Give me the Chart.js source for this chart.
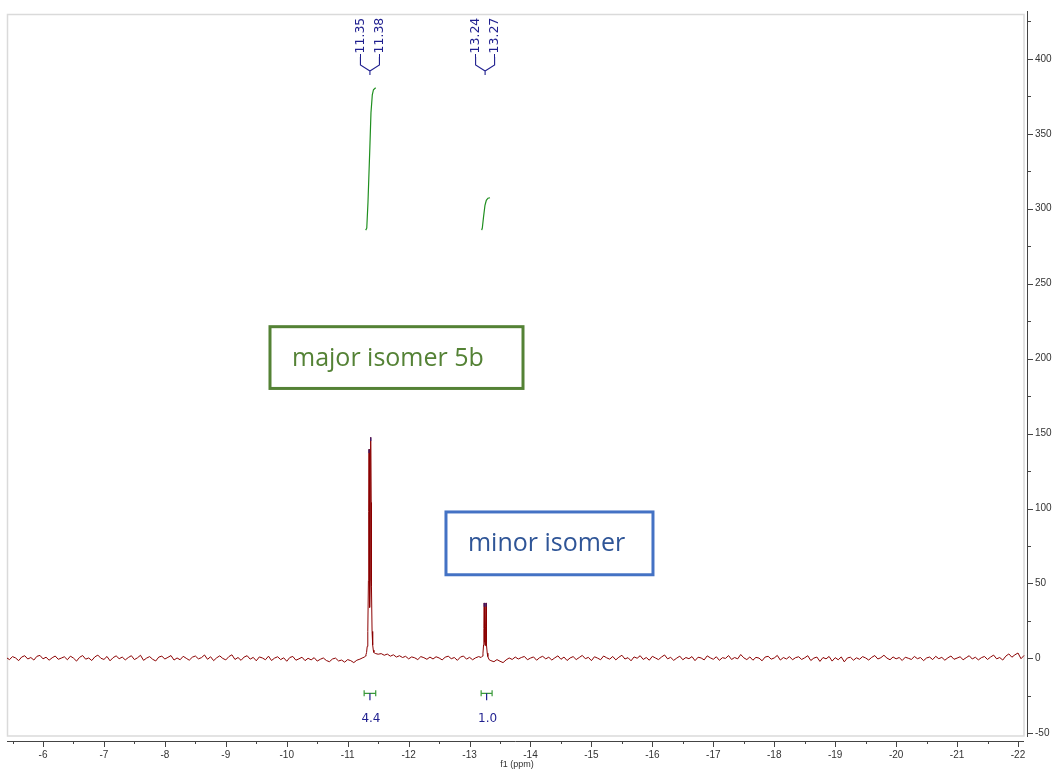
<!DOCTYPE html>
<html>
<head>
<meta charset="utf-8">
<script src="https://cdn.jsdelivr.net/npm/chart.js@4.4.1/dist/chart.umd.min.js"></script>
<style>
  html, body { margin: 0; padding: 0; background: #fff; }
</style>
</head>
<body>
<canvas id="nmr" width="1055" height="771"></canvas>
<script>
"use strict";

// baseline noise, one value every 0.05 ppm starting at -5.40
var baseStart = -5.40;
var baseStep = 0.05;
var baseNoise = [
  0.5, -0.8, 1.2, 0.3, -1.5, 0.9, 1.8, -0.4, 0.6, -1.1, 1.4, 2.0, -0.3, 0.8, -1.2, 0.4, 1.6, -0.6, 0.2, 1.1,
  -0.9, 1.5, 0.2, -1.8, 0.7, 1.9, -0.5, 0.3, -1.4, 1.0, 2.2, 0.1, -0.7, 1.3, -1.6, 0.5, 1.7, -0.2, 0.9, -1.0,
  0.6, 1.8, -0.8, 0.4, 2.1, -1.3, 0.2, 1.2, -0.6, -1.7, 0.9, 1.5, -0.4, 0.7, 1.9, -1.1, 0.3, -0.9, 1.4, 0.1,
  -1.2, 0.8, 1.6, -0.3, 0.5, 2.3, -0.6, 1.1, -1.5, 0.4, 1.7, 0.0, -1.0, 1.2, 2.4, -0.7, 0.6, -1.3, 0.9, 1.8,
  -0.5, 0.7, -1.6, 1.0, 0.3, -0.9, 1.5, -1.4, 0.2, 1.1, -0.8, 0.4, -1.9, 0.6, 1.3, -1.2, -0.3, 0.8, -1.5, 0.1,
  -1.0, 0.5, -1.8, -0.6, 0.3, -1.4, -2.2, -0.4, 0.2, -1.7, -1.1, -2.5, -0.8, -1.5, -2.8, -1.2, -0.5, 0.5, 2.0, 5.0,
  5.0, 3.0, 2.8, 3.2, 2.1, 2.9, 1.5, 2.4, 0.9, 1.8, 0.6, 1.4, -0.3, 1.0, 0.4, -0.8, 1.2, 0.5, -0.6, 0.9,
  -0.4, 1.1, 0.3, -1.0, 0.8, 1.5, -0.2, 0.6, -1.3, 0.9, 1.6, -0.5, 0.7, -0.9, 0.4, 1.2, 2.0, 9.0, 2.0, -1.5,
  -2.2, -0.8, -1.9, -2.8, -1.0, 0.3, -0.7, 0.9, -0.4, 0.6, 1.3, -0.9, 0.2, 1.0, -1.2, 0.5, 1.4, -0.3, 0.8, -1.1,
  0.4, 1.7, -0.6, 0.9, -1.4, 0.3, 1.2, -0.8, 0.6, 2.0, -0.2, 0.7, -1.5, 1.1, 0.2, -0.9, 1.6, 0.4, -0.5, 1.3,
  -1.0, 0.8, 2.1, -0.4, 0.5, -1.6, 1.0, 0.1, 1.8, -0.7, 0.6, -1.2, 1.4, 0.3, -0.8, 0.9, 2.3, -0.3, 0.7, -1.3,
  0.2, 1.5, -0.9, 0.6, -0.2, 1.2, -1.5, 0.8, 0.3, -1.0, 1.7, 0.4, -0.6, 1.1, -1.3, 0.5, 0.0, 1.9, -0.7, 0.6,
  -0.3, 2.6, 0.4, -0.8, 1.0, -1.2, 0.7, 0.2, -1.6, 0.9, 1.4, -0.5, 0.3, 2.0, -1.1, 0.6, -0.4, 1.2, -0.9, 0.5,
  1.1, -0.7, 0.4, 1.8, -1.4, 0.2, 0.9, -2.0, 0.6, -0.3, 1.3, -1.8, 0.5, -0.9, 1.0, -2.3, 0.3, 0.8, -1.2, 0.4,
  -0.6, 1.2, 0.3, -1.1, 0.7, 1.9, -0.4, 0.5, 2.1, 0.2, -0.9, 1.0, -0.3, 0.6, -1.4, 0.8, 0.1, -0.7, 1.3, -0.2,
  0.6, -1.5, 0.3, 0.9, -0.8, 1.4, -0.2, 0.7, -1.2, 0.4, 1.6, -0.6, 0.2, 1.1, -0.9, 0.5, 1.8, -0.4, 0.8, -1.0,
  0.5, 1.3, -0.7, 0.9, 2.2, -0.3, 0.6, -1.1, 1.5, 3.0, 0.8, 2.4, 3.6, -0.2, 2.0
];

// major doublet (-11.35 / -11.38)
var majorPpm = [-11.27, -11.29, -11.30, -11.31, -11.32, -11.33, -11.34, -11.345, -11.35, -11.355, -11.36, -11.365,
                -11.37, -11.375, -11.38, -11.385, -11.39, -11.40, -11.41, -11.42, -11.43, -11.44, -11.46];
var majorInt = [0.8, 1.5, 2.5, 4, 8, 18, 52, 98, 139.5, 98, 48, 34,
                52, 104, 147.5, 104, 48, 18, 9, 5.5, 4, 3.5, 3.2];

// minor doublet (-13.24 / -13.27)
var minorPpm = [-13.19, -13.21, -13.22, -13.23, -13.235, -13.24, -13.245, -13.25, -13.255,
                -13.26, -13.265, -13.27, -13.275, -13.28, -13.29, -13.30, -13.32];
var minorInt = [0.6, 1.5, 3.5, 9, 20, 37, 20, 11, 8.5,
                12, 21, 37, 21, 9, 3.5, 1.2, -0.8];

// integral curves
var majorIntPpm = [-11.295, -11.313, -11.333, -11.361, -11.382, -11.404, -11.423, -11.459];
var majorIntVal = [285.7, 287.0, 304.3, 337.5, 364.0, 376.0, 379.4, 380.7];
var minorIntPpm = [-13.199, -13.209, -13.229, -13.253, -13.275, -13.302, -13.335];
var minorIntVal = [285.7, 287.0, 294.4, 302.3, 305.6, 307.0, 307.3];

// picked peaks
var peakShifts = [-11.35, -11.38, -13.24, -13.27];
var peakHeights = [139.5, 147.5, 37, 37];
var peakLabels = ['-11.35', '-11.38', '-13.24', '-13.27'];

// integration regions
var intFrom = [-11.27, -13.19];
var intTo = [-11.46, -13.37];
var intLabels = ['4.4', '1.0'];

// axes
var xTickValues = [-6, -7, -8, -9, -10, -11, -12, -13, -14, -15, -16, -17, -18, -19, -20, -21, -22];
var yTickValues = [-50, 0, 50, 100, 150, 200, 250, 300, 350, 400];

// text boxes
var boxLabels = ['major isomer 5b', 'minor isomer'];

var navy = '#1f1f8f';
var axisColor = '#444';

function buildSpectrum() {
    var pts = [];
    var windows = [[majorPpm[0], majorPpm[majorPpm.length - 1]], [minorPpm[0], minorPpm[minorPpm.length - 1]]];
    for (var i = 0; i < baseNoise.length; i++) {
        var x = Math.round((baseStart - i * baseStep) * 100) / 100;
        var inside = windows.some(function (w) { return x <= w[0] && x >= w[1]; });
        if (!inside) pts.push({ x: x, y: baseNoise[i] });
    }
    majorPpm.forEach(function (x, k) { pts.push({ x: x, y: majorInt[k] }); });
    minorPpm.forEach(function (x, k) { pts.push({ x: x, y: minorInt[k] }); });
    pts.sort(function (a, b) { return b.x - a.x; });
    return pts;
}

function zip(xs, ys) {
    return xs.map(function (x, k) { return { x: x, y: ys[k] }; });
}

function peakCaps() {
    var pts = [];
    for (var i = 0; i < peakShifts.length; i++) {
        pts.push({ x: peakShifts[i], y: peakHeights[i] - 2.5 });
        pts.push({ x: peakShifts[i], y: peakHeights[i] });
        pts.push({ x: peakShifts[i], y: null });
    }
    return pts;
}

// frame, axis lines, tick marks, peak labels, integrals and text boxes
var decorations = {
    id: 'decorations',
    beforeDatasetsDraw: function (chart) {
        var ctx = chart.ctx, a = chart.chartArea;
        ctx.save();
        ctx.strokeStyle = '#dadada';
        ctx.lineWidth = 1.5;
        ctx.strokeRect(a.left + 0.5, a.top + 0.5, a.right - 3.5 - a.left, a.bottom - 5.5 - a.top);
        ctx.restore();
    },
    afterDraw: function (chart) {
        var ctx = chart.ctx, a = chart.chartArea;
        var xs = chart.scales.x, ys = chart.scales.y;
        ctx.save();

        // axis lines and ticks
        ctx.strokeStyle = axisColor;
        ctx.lineWidth = 1;
        ctx.beginPath();
        ctx.moveTo(a.left, a.bottom + 0.5);
        ctx.lineTo(a.right - 3, a.bottom + 0.5);
        ctx.moveTo(a.right + 0.5, a.top - 3);
        ctx.lineTo(a.right + 0.5, a.bottom - 4);
        xTickValues.forEach(function (v) {
            var p = Math.round(xs.getPixelForValue(v)) + 0.5;
            ctx.moveTo(p, a.bottom);
            ctx.lineTo(p, a.bottom + 6);
            [v + 0.5, v - 0.5].forEach(function (m) {
                if (m > xs.min && m < xs.max) {
                    var q = Math.round(xs.getPixelForValue(m)) + 0.5;
                    ctx.moveTo(q, a.bottom);
                    ctx.lineTo(q, a.bottom + 3);
                }
            });
        });
        yTickValues.forEach(function (v) {
            var p = Math.round(ys.getPixelForValue(v)) + 0.5;
            ctx.moveTo(a.right, p);
            ctx.lineTo(a.right + 6, p);
            [v + 25, v - 25].forEach(function (m) {
                if (m > ys.min && m < ys.max) {
                    var q = Math.round(ys.getPixelForValue(m)) + 0.5;
                    ctx.moveTo(a.right, q);
                    ctx.lineTo(a.right + 4, q);
                }
            });
        });
        ctx.stroke();

        // peak labels with their connecting brackets
        ctx.font = '12.5px "DejaVu Sans"';
        ctx.fillStyle = navy;
        ctx.strokeStyle = navy;
        ctx.lineWidth = 1.1;
        for (var g = 0; g < peakShifts.length; g += 2) {
            var c = (xs.getPixelForValue(peakShifts[g]) + xs.getPixelForValue(peakShifts[g + 1])) / 2;
            var sides = [c - 9.5, c + 9.5];
            ctx.beginPath();
            sides.forEach(function (lx) {
                ctx.moveTo(lx, 57);
                ctx.lineTo(lx, 65);
                ctx.lineTo(c, 71);
            });
            ctx.moveTo(c, 71);
            ctx.lineTo(c, 75);
            ctx.stroke();
            for (var k = 0; k < 2; k++) {
                ctx.save();
                ctx.translate(sides[k], 58);
                ctx.rotate(-Math.PI / 2);
                ctx.textAlign = 'left';
                ctx.textBaseline = 'middle';
                ctx.fillText(peakLabels[g + k], 0, 0);
                ctx.restore();
            }
        }

        // integration brackets and values
        var by = ys.getPixelForValue(-23.3);
        for (var r = 0; r < intFrom.length; r++) {
            var x0 = xs.getPixelForValue(intFrom[r]);
            var x1 = xs.getPixelForValue(intTo[r]);
            var xm = (x0 + x1) / 2;
            ctx.strokeStyle = '#3a9a3a';
            ctx.lineWidth = 1.2;
            ctx.beginPath();
            ctx.moveTo(x0, by - 3); ctx.lineTo(x0, by + 3);
            ctx.moveTo(x1, by - 3); ctx.lineTo(x1, by + 3);
            ctx.moveTo(x0, by); ctx.lineTo(x1, by);
            ctx.stroke();
            ctx.strokeStyle = navy;
            ctx.beginPath();
            ctx.moveTo(xm, by); ctx.lineTo(xm, by + 7);
            ctx.stroke();
            ctx.fillStyle = navy;
            ctx.font = '12px "DejaVu Sans"';
            ctx.textAlign = 'center';
            ctx.textBaseline = 'middle';
            ctx.fillText(intLabels[r], xm + 1, ys.getPixelForValue(-40.2));
        }

        // text boxes
        var boxes = [
            { from: -9.725, to: -13.877, top: 221.3, bottom: 180.1, stroke: '#548235', color: '#548235' },
            { from: -12.613, to: -16.01, top: 97.7, bottom: 55.8, stroke: '#4472c4', color: '#2f5597' }
        ];
        boxes.forEach(function (b, n) {
            var l = xs.getPixelForValue(b.from), rr = xs.getPixelForValue(b.to);
            var t = ys.getPixelForValue(b.top), bt = ys.getPixelForValue(b.bottom);
            ctx.strokeStyle = b.stroke;
            ctx.lineWidth = 3;
            ctx.strokeRect(l, t, rr - l, bt - t);
            ctx.fillStyle = b.color;
            ctx.font = '25px "Open Sans"';
            ctx.textAlign = 'left';
            ctx.textBaseline = 'alphabetic';
            ctx.fillText(boxLabels[n], l + 22, t + 39);
        });

        ctx.restore();
    }
};

Chart.defaults.font.family = '"Liberation Sans", Arial, sans-serif';

new Chart(document.getElementById('nmr'), {
    type: 'line',
    data: {
        datasets: [
            { data: peakCaps(), borderColor: navy, borderWidth: 1, spanGaps: false },
            { data: zip(majorIntPpm, majorIntVal), borderColor: '#1f8f1f', borderWidth: 1.2 },
            { data: zip(minorIntPpm, minorIntVal), borderColor: '#1f8f1f', borderWidth: 1.2 },
            { data: buildSpectrum(), borderColor: '#8b0000', borderWidth: 1 }
        ]
    },
    options: {
        responsive: false,
        animation: false,
        devicePixelRatio: 1,
        layout: { padding: { left: 7, top: 11, right: 0, bottom: 0 } },
        elements: { point: { radius: 0 }, line: { tension: 0 } },
        plugins: { legend: { display: false }, tooltip: { enabled: false } },
        scales: {
            x: {
                type: 'linear',
                reverse: true,
                min: -22.148,
                max: -5.409,
                grid: { display: false, drawTicks: false },
                border: { display: false },
                afterBuildTicks: function (s) { s.ticks = xTickValues.map(function (v) { return { value: v }; }); },
                afterFit: function (s) { s.height = 30; },
                ticks: {
                    autoSkip: false, maxRotation: 0, padding: 8, color: '#333',
                    font: { size: 10 },
                    callback: function (v) { return String(v); }
                },
                title: {
                    display: true, text: 'f1 (ppm)', color: '#333',
                    font: { size: 9 }, padding: { top: 0, bottom: 1 }
                }
            },
            y: {
                type: 'linear',
                position: 'right',
                min: -55.1,
                max: 429.9,
                grid: { display: false, drawTicks: false },
                border: { display: false },
                afterBuildTicks: function (s) { s.ticks = yTickValues.map(function (v) { return { value: v }; }); },
                afterFit: function (s) { s.width = 28; },
                ticks: {
                    padding: 8, color: '#333',
                    font: { size: 10 },
                    callback: function (v) { return String(v); }
                }
            }
        }
    },
    plugins: [decorations]
});
</script>
</body>
</html>
